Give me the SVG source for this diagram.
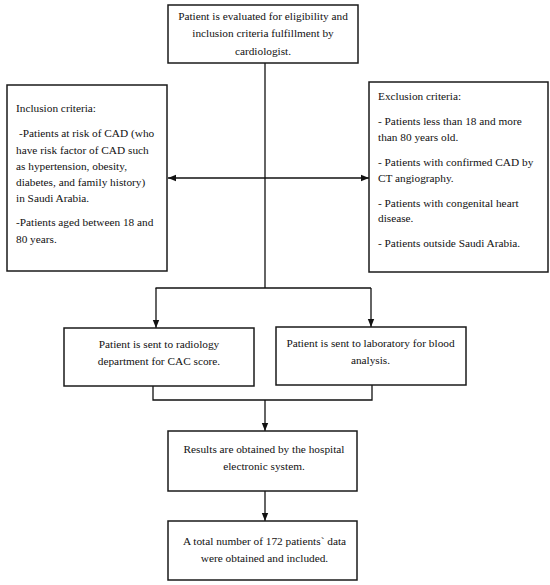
<svg xmlns="http://www.w3.org/2000/svg" width="550" height="585" viewBox="0 0 550 585">
<style>
.box{fill:#fff;stroke:#1a1a1a;stroke-width:1.5}
.t{font-family:"Liberation Serif","Times New Roman",serif;font-size:11.3px;fill:#111}
.c{text-anchor:middle}
.ln{fill:none;stroke:#111;stroke-width:1.3}
</style>
<defs>
<marker id="ah" markerUnits="userSpaceOnUse" markerWidth="8" markerHeight="8" viewBox="0 0 8 8" refX="8" refY="4" orient="auto">
<path d="M0,0.8 L8,4 L0,7.2 Z" fill="#111"/>
</marker>
</defs>
<rect width="550" height="585" fill="#fff"/>
<g id="connectors">
<line class="ln" x1="265" y1="63" x2="265" y2="288"/>
<line class="ln" x1="265" y1="178" x2="168" y2="178" marker-end="url(#ah)"/>
<line class="ln" x1="265" y1="178" x2="369" y2="178" marker-end="url(#ah)"/>
<line class="ln" x1="155.5" y1="288" x2="371" y2="288"/>
<line class="ln" x1="156" y1="288" x2="156" y2="328" marker-end="url(#ah)"/>
<line class="ln" x1="371" y1="288" x2="371" y2="327" marker-end="url(#ah)"/>
<polyline class="ln" points="153,386 153,400 372,400 372,385"/>
<line class="ln" x1="265" y1="400" x2="265" y2="431" marker-end="url(#ah)"/>
<line class="ln" x1="265" y1="491" x2="265" y2="521" marker-end="url(#ah)"/>
</g>
<g id="start">
<rect class="box" x="168" y="5" width="190" height="58"/>
<text class="t c" x="263" y="20">Patient is evaluated for eligibility and</text>
<text class="t c" x="263" y="37">inclusion criteria fulfillment by</text>
<text class="t c" x="263" y="55">cardiologist.</text>
</g>
<g id="inclusion">
<rect class="box" x="7" y="85" width="160" height="186"/>
<text class="t" x="16" y="112">Inclusion criteria:</text>
<text class="t" x="19" y="137">-Patients at risk of CAD (who</text>
<text class="t" x="16" y="153.5">have risk factor of CAD such</text>
<text class="t" x="16" y="169.5">as hypertension, obesity,</text>
<text class="t" x="16" y="185.5">diabetes, and family history)</text>
<text class="t" x="16" y="202">in Saudi Arabia.</text>
<text class="t" x="16" y="226">-Patients aged between 18 and</text>
<text class="t" x="16" y="243">80 years.</text>
</g>
<g id="exclusion">
<rect class="box" x="369" y="82" width="179" height="190"/>
<text class="t" x="378" y="99.5">Exclusion criteria:</text>
<text class="t" x="378" y="125">- Patients less than 18 and more</text>
<text class="t" x="378" y="140.5">than 80 years old.</text>
<text class="t" x="378" y="165.5">- Patients with confirmed CAD by</text>
<text class="t" x="378" y="181.5">CT angiography.</text>
<text class="t" x="378" y="206.5">- Patients with congenital heart</text>
<text class="t" x="378" y="221.5">disease.</text>
<text class="t" x="378" y="247">- Patients outside Saudi Arabia.</text>
</g>
<g id="radiology">
<rect class="box" x="64" y="328" width="190" height="58"/>
<text class="t c" x="159" y="348">Patient is sent to radiology</text>
<text class="t c" x="159" y="364.5">department for CAC score.</text>
</g>
<g id="laboratory">
<rect class="box" x="276" y="327" width="190" height="58"/>
<text class="t c" x="370.5" y="347">Patient is sent to laboratory for blood</text>
<text class="t c" x="370.5" y="363.5">analysis.</text>
</g>
<g id="results">
<rect class="box" x="168" y="431" width="189" height="60"/>
<text class="t c" x="264" y="453">Results are obtained by the hospital</text>
<text class="t c" x="264" y="469.5">electronic system.</text>
</g>
<g id="total">
<rect class="box" x="168" y="521" width="189" height="59"/>
<text class="t c" x="264.5" y="544.5">A total number of 172 patients` data</text>
<text class="t c" x="264.5" y="562">were obtained and included.</text>
</g>
</svg>
